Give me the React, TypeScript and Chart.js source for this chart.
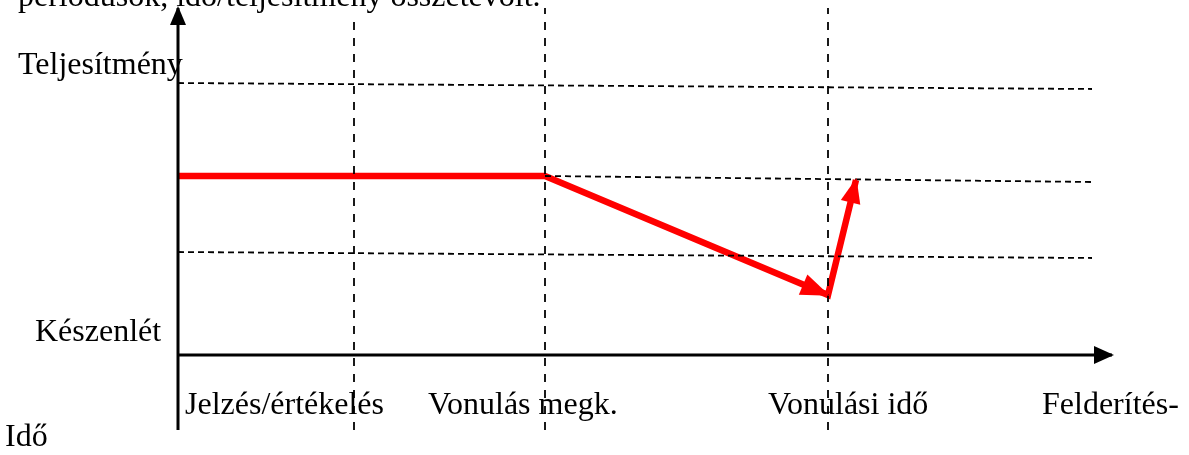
import React, { useEffect, useRef } from "react";
import { Chart, registerables } from "chart.js";

Chart.register(...registerables);

// ---- data (abstract diagram units: time → x, performance → y) ----
const captionText = "periódusok, idő/teljesítmény összetevőit.";
const yAxisTitle = "Teljesítmény";
const baselineLabel = "Készenlét";
const xAxisTitle = "Idő";
const phaseLabels = ["Jelzés/értékelés", "Vonulás megk.", "Vonulási idő", "Felderítés-"];
const phaseLabelStarts = [0.7, 25.0, 59.0, 86.4];

// vertical dashed phase boundaries
const phaseBoundaries = [17.6, 36.7, 65.0];
const phaseBoundaryTops = [33.5, 34.7, 34.7];
const phaseBoundaryBottom = -7.5;

// horizontal dashed performance levels (slightly skewed as in the scan)
const levelStartX = [0, 36.7, 0];
const levelEndX = [91.4, 91.4, 91.4];
const levelStartY = [27.2, 17.9, 10.3];
const levelEndY = [26.6, 17.3, 9.7];

// performance curve
const perfTime = [0, 36.7, 65.0, 67.8];
const perfValue = [17.9, 17.9, 6.0, 17.5];

// axes
const timeAxisX = [0, 93.4];
const perfAxisY = [-7.5, 34.7];

// scale ranges
const X_MIN = -17.8;
const X_MAX = 101.1;
const Y_MIN = -10;
const Y_MAX = 35.5;

const FONT = "32px 'Liberation Serif', 'Times New Roman', serif";

const diagramPlugin = {
  id: "diagramDecor",
  afterDatasetsDraw(chart: any) {
    const { ctx, scales } = chart;
    const px = (v: number) => scales.x.getPixelForValue(v);
    const py = (v: number) => scales.y.getPixelForValue(v);

    const arrow = (x0: number, y0: number, x1: number, y1: number, color: string, len: number, half: number) => {
      const ax = px(x0), ay = py(y0), bx = px(x1), by = py(y1);
      const ang = Math.atan2(by - ay, bx - ax);
      ctx.save();
      ctx.fillStyle = color;
      ctx.beginPath();
      ctx.moveTo(bx + 2 * Math.cos(ang), by + 2 * Math.sin(ang));
      ctx.lineTo(bx - len * Math.cos(ang) + half * Math.sin(ang), by - len * Math.sin(ang) - half * Math.cos(ang));
      ctx.lineTo(bx - len * Math.cos(ang) - half * Math.sin(ang), by - len * Math.sin(ang) + half * Math.cos(ang));
      ctx.closePath();
      ctx.fill();
      ctx.restore();
    };

    // axis arrowheads
    arrow(timeAxisX[0], 0, timeAxisX[1], 0, "#000", 18, 9);
    arrow(0, perfAxisY[0], 0, perfAxisY[1], "#000", 17, 8);
    // performance arrowheads
    arrow(perfTime[1], perfValue[1], perfTime[2], perfValue[2], "#ff0000", 27, 11);
    arrow(perfTime[2], perfValue[2], perfTime[3], perfValue[3], "#ff0000", 23, 10);

    // texts
    ctx.save();
    ctx.font = FONT;
    ctx.fillStyle = "#000";
    ctx.textBaseline = "alphabetic";
    ctx.textAlign = "left";
    ctx.fillText(captionText, px(-16.0), py(34.9));
    ctx.fillText(yAxisTitle, px(-16.0), py(28.1));
    ctx.fillText(baselineLabel, px(-14.3), py(1.4));
    phaseLabels.forEach((t, i) => ctx.fillText(t, px(phaseLabelStarts[i]), py(-5.9)));
    ctx.fillText(xAxisTitle, px(-17.3), py(-9.1));
    ctx.restore();
  },
};

export default function App() {
  const ref = useRef<HTMLCanvasElement | null>(null);

  useEffect(() => {
    if (!ref.current) return;
    const seg = (xs: number[], ys: number[]) => xs.map((x, i) => ({ x, y: ys[i] }));

    const datasets: any[] = [];
    phaseBoundaries.forEach((x, i) => {
      datasets.push({
        data: seg([x, x], [phaseBoundaryBottom, phaseBoundaryTops[i]]),
        borderColor: "#000",
        borderWidth: 1.8,
        borderDash: [8, 8],
      });
    });
    levelStartX.forEach((x, i) => {
      datasets.push({
        data: seg([x, levelEndX[i]], [levelStartY[i], levelEndY[i]]),
        borderColor: "#000",
        borderWidth: 1.8,
        borderDash: [6, 4],
      });
    });
    datasets.push({
      data: seg(timeAxisX, [0, 0]),
      borderColor: "#000",
      borderWidth: 3,
    });
    datasets.push({
      data: seg([0, 0], perfAxisY),
      borderColor: "#000",
      borderWidth: 3,
    });
    datasets.push({
      data: seg(perfTime, perfValue),
      borderColor: "#ff0000",
      borderWidth: 6.5,
      borderJoinStyle: "miter",
    });

    const chart = new Chart(ref.current, {
      type: "scatter",
      data: {
        datasets: datasets.map((d) => ({
          ...d,
          showLine: true,
          pointRadius: 0,
          pointHoverRadius: 0,
          fill: false,
          tension: 0,
        })),
      },
      options: {
        animation: false,
        responsive: false,
        maintainAspectRatio: false,
        devicePixelRatio: 1,
        layout: { padding: 0 },
        plugins: { legend: { display: false }, tooltip: { enabled: false } },
        scales: {
          x: { type: "linear", min: X_MIN, max: X_MAX, display: false },
          y: { type: "linear", min: Y_MIN, max: Y_MAX, display: false },
        },
      },
      plugins: [diagramPlugin],
    });
    return () => chart.destroy();
  }, []);

  return (
    <div style={{ position: "absolute", left: 0, top: 0, width: 1189, height: 455, background: "#fff" }}>
      <canvas ref={ref} width={1189} height={455} style={{ display: "block" }} />
    </div>
  );
}
